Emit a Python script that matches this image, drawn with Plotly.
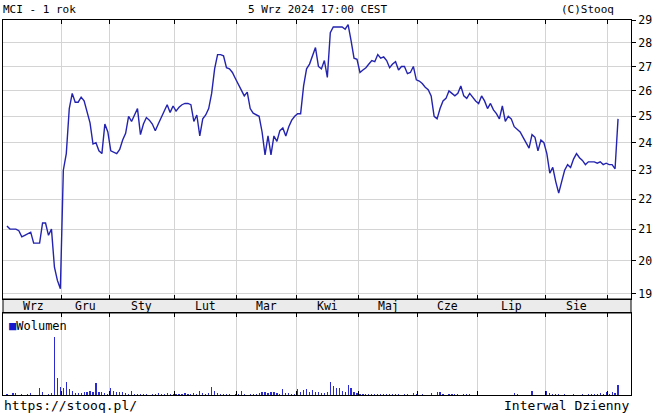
import math
import plotly.graph_objects as go

# ---------------- data (daily close, PLN) ----------------
month_labels = ["Wrz", "Gru", "Sty", "Lut", "Mar", "Kwi", "Maj", "Cze", "Lip", "Sie", "Wrz"]

close_wrz23 = [21.1, 21.0, 21.0, 21.0, 20.95, 20.75, 20.8, 20.85, 20.9, 20.55, 20.55, 20.55,
               21.2, 21.2, 20.8, 21.0, 19.8, 19.4, 19.15]
close_gru23 = [23.0, 23.6, 25.3, 25.9, 25.55, 25.55, 25.75, 25.6, 25.2, 24.75, 23.95, 24.0,
               23.7, 23.6, 24.7, 24.4]
close_sty24 = [23.7, 23.65, 23.6, 23.75, 24.1, 24.35, 25.0, 24.8, 25.05, 25.3, 24.3, 24.7,
               24.95, 24.85, 24.7, 24.45, 24.7, 24.95, 25.2, 25.45, 25.15, 25.4]
close_lut24 = [25.2, 25.35, 25.45, 25.5, 25.5, 25.45, 24.8, 25.05, 24.25, 24.9, 25.05, 25.3,
               25.9, 26.9, 27.5, 27.5, 27.45, 26.95, 26.9, 26.75, 26.5]
close_mar24 = [26.25, 26.05, 25.8, 25.95, 25.3, 25.12, 25.05, 25.0, 24.4, 23.55, 24.25, 23.55,
               24.25, 24.05, 24.45, 24.55, 24.25, 24.6, 24.85, 25.0]
close_kwi24 = [25.1, 25.1, 26.2, 26.9, 27.1, 27.5, 27.8, 27.0, 26.9, 27.25, 26.55, 28.45,
               28.7, 28.7, 28.7, 28.7, 28.6, 28.8, 28.1, 27.35, 27.3]
close_maj24 = [26.75, 26.85, 26.95, 27.1, 27.25, 27.2, 27.5, 27.35, 27.4, 27.25, 26.95, 27.1,
               27.2, 26.85, 27.0, 27.0, 26.7, 26.75, 27.0, 26.45]
close_cze24 = [26.4, 26.3, 26.15, 26.05, 25.8, 25.0, 24.9, 25.3, 25.6, 25.7, 26.0, 25.9,
               25.8, 25.9, 26.2, 25.8, 25.7, 25.9, 25.75, 25.6]
close_lip24 = [25.5, 25.8, 25.6, 25.3, 25.5, 25.25, 25.1, 24.9, 25.4, 24.8, 25.0, 24.9,
               24.6, 24.5, 24.4, 24.2, 24.0, 23.8, 24.3, 24.2, 23.7, 24.1, 24.0]
close_sie24 = [23.6, 22.9, 23.1, 22.6, 22.2, 22.6, 23.0, 23.2, 23.1, 23.4, 23.6, 23.45,
               23.35, 23.2, 23.3, 23.3, 23.3, 23.25, 23.3, 23.2, 23.25]
close_wrz24 = [23.2, 23.2, 23.05, 24.9]

vol_wrz23 = [2, 0, 5, 5, 0, 3, 0, 2, 5, 0, 0, 22, 10, 0, 2, 5, 172, 52, 25]
vol_gru23 = [22, 40, 18, 12, 7, 7, 7, 10, 10, 12, 10, 35, 10, 8, 7, 4]
vol_sty24 = [22, 12, 10, 8, 8, 5, 4, 12, 4, 3, 4, 3, 2, 0, 4, 3, 5, 3, 4, 5, 3, 4]
vol_lut24 = [3, 4, 3, 6, 4, 3, 5, 4, 12, 5, 3, 6, 25, 12, 5, 3, 4, 4, 3, 0, 3]
vol_mar24 = [3, 12, 3, 0, 3, 4, 4, 5, 8, 10, 5, 8, 10, 5, 4, 18, 5, 5, 3, 4]
vol_kwi24 = [18, 10, 15, 18, 8, 15, 10, 8, 6, 5, 8, 40, 28, 22, 20, 12, 10, 30, 22, 10, 5]
vol_maj24 = [4, 3, 4, 3, 4, 3, 4, 3, 2, 4, 3, 3, 2, 3, 0, 2, 3, 0, 5, 3]
vol_cze24 = [0, 3, 0, 0, 5, 0, 8, 10, 4, 0, 3, 3, 2, 3, 0, 3, 2, 3, 0, 0]
vol_lip24 = [0, 0, 0, 0, 0, 0, 0, 0, 0, 0, 0, 0, 5, 3, 0, 0, 0, 0, 12, 0, 0, 0, 0]
vol_sie24 = [12, 5, 4, 3, 4, 0, 3, 0, 0, 3, 0, 0, 3, 0, 4, 3, 4, 4, 5, 3, 8]
vol_wrz24 = [4, 8, 5, 30]

price_ticks = [19, 20, 21, 22, 23, 24, 25, 26, 27, 28, 29]

# ---------------- assemble ----------------
close_by_month = [close_wrz23, close_gru23, close_sty24, close_lut24, close_mar24, close_kwi24,
                  close_maj24, close_cze24, close_lip24, close_sie24, close_wrz24]
vol_by_month = [vol_wrz23, vol_gru23, vol_sty24, vol_lut24, vol_mar24, vol_kwi24,
                vol_maj24, vol_cze24, vol_lip24, vol_sie24, vol_wrz24]

close = [v for m in close_by_month for v in m]
volume = [v for m in vol_by_month for v in m]
n = len(close)
idx = list(range(n))

lengths = [len(m) for m in close_by_month]
starts = []
s = 0
for L in lengths:
    starts.append(s)
    s += L
boundaries = [st - 0.5 for st in starts[1:]]
label_pos = [starts[k] + (lengths[k] - 1) / 2 for k in range(len(lengths))]

FONT = "DejaVu Sans Mono"
GRID = "#d4d4d4"
LINE_C = "#2323b0"
BAR_C = "#2a2ad0"

VOL_TOP = 0.2187
MAIN_BOT = 0.256

fig = go.Figure()
fig.add_trace(go.Scatter(x=idx, y=close, mode="lines",
                         line=dict(color=LINE_C, width=1.4),
                         xaxis="x", yaxis="y", showlegend=False, hoverinfo="skip"))
fig.add_trace(go.Bar(x=idx, y=volume, width=0.4, marker=dict(color=BAR_C, line=dict(width=0)),
                     xaxis="x2", yaxis="y2", showlegend=False, hoverinfo="skip"))

xr = [-1.34, n - 1 + 4.37]
ylog = [math.log10(18.85), math.log10(29.01)]

fig.update_layout(
    width=654, height=415,
    margin=dict(l=2, r=22, t=20, b=20),
    paper_bgcolor="white", plot_bgcolor="white",
    font=dict(family=FONT, size=11, color="black"),
    bargap=0,
    xaxis=dict(domain=[0, 1], range=xr, anchor="y", tickvals=boundaries, showticklabels=False,
               ticks="inside", ticklen=4, tickcolor="black", showgrid=True, gridcolor=GRID,
               gridwidth=1, showline=True, linecolor="black", linewidth=1, mirror="ticks",
               zeroline=False),
    yaxis=dict(domain=[MAIN_BOT, 1], type="log", range=ylog, side="right", anchor="x",
               tickvals=price_ticks, ticktext=[str(t) for t in price_ticks],
               ticks="outside", ticklen=4, tickcolor="black",
               tickfont=dict(family=FONT, size=11.5, color="black"),
               showgrid=True, gridcolor=GRID, gridwidth=1, showline=True, linecolor="black",
               linewidth=1, mirror=True, zeroline=False),
    yaxis3=dict(overlaying="y", type="log", range=ylog, side="left", anchor="x",
                tickvals=price_ticks, showticklabels=False, ticks="inside", ticklen=4,
                tickcolor="black", showgrid=False, showline=False, zeroline=False),
    xaxis2=dict(domain=[0, 1], range=xr, anchor="y2", tickvals=boundaries, showticklabels=False,
                ticks="inside", ticklen=4, tickcolor="black", showgrid=True, gridcolor=GRID,
                gridwidth=1, showline=True, linecolor="black", linewidth=1, mirror="ticks",
                zeroline=False),
    yaxis2=dict(domain=[0, VOL_TOP], range=[0, 245], anchor="x2", showticklabels=False,
                ticks="", showgrid=False, showline=True, linecolor="black", linewidth=1,
                mirror=True, zeroline=False),
)

# month label band
fig.add_shape(type="rect", xref="paper", yref="paper", x0=0, x1=1, y0=VOL_TOP, y1=MAIN_BOT,
              fillcolor="#ebebeb", line=dict(color="black", width=1), layer="below")

band_mid = (VOL_TOP + MAIN_BOT) / 2
for k, lab in enumerate(month_labels):
    if lengths[k] < 8:
        continue
    fig.add_annotation(x=label_pos[k], xref="x", y=band_mid, yref="paper", text=lab,
                       showarrow=False, font=dict(family=FONT, size=11.5, color="black"),
                       xanchor="center", yanchor="middle")

# header / footer texts
hdr = dict(family=FONT, size=11, color="black")
fig.add_annotation(x=0, xref="paper", y=1.029, yref="paper", text="MCI - 1 rok",
                   showarrow=False, xanchor="left", yanchor="middle", font=hdr, xshift=-2)
fig.add_annotation(x=0.5, xref="paper", y=1.029, yref="paper", text="5 Wrz 2024 17:00 CEST",
                   showarrow=False, xanchor="center", yanchor="middle", font=hdr)
fig.add_annotation(x=0.976, xref="paper", y=1.029, yref="paper", text="(C)Stooq",
                   showarrow=False, xanchor="right", yanchor="middle", font=hdr)

ftr = dict(family=FONT, size=13, color="black")
fig.add_annotation(x=0, xref="paper", y=-0.027, yref="paper", text="https://stooq.pl/",
                   showarrow=False, xanchor="left", yanchor="middle", font=ftr, xshift=-1)
fig.add_annotation(x=1, xref="paper", y=-0.027, yref="paper", text="Interwal Dzienny",
                   showarrow=False, xanchor="right", yanchor="middle", font=ftr)

# volume legend
fig.add_annotation(x=0.006, xref="paper", y=0.184, yref="paper",
                   text="<span style='color:#1a1acc'>■</span>Wolumen",
                   showarrow=False, xanchor="left", yanchor="middle",
                   font=dict(family=FONT, size=12, color="black"))

fig.write_html("out.html", config={"displayModeBar": False, "staticPlot": True},
               post_script="document.body.style.margin='0';document.body.style.overflow='hidden';")
